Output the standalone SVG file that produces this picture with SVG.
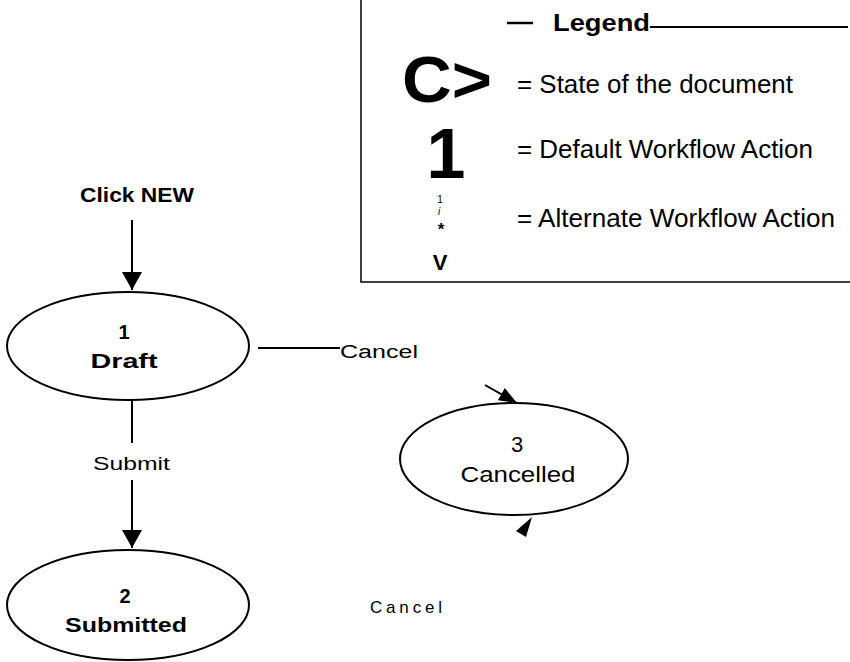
<svg xmlns="http://www.w3.org/2000/svg" width="850" height="662" viewBox="0 0 850 662">
  <defs>
    <marker id="arrow" markerUnits="userSpaceOnUse" markerWidth="20" markerHeight="20" refX="18" refY="10" orient="auto">
      <path d="M0,0 L18,10 L0,20 z" fill="#000"/>
    </marker>
    <marker id="arrow-sm" markerUnits="userSpaceOnUse" markerWidth="18" markerHeight="14" refX="18" refY="7" orient="auto">
      <path d="M0,0 L18,7 L0,14 z" fill="#000"/>
    </marker>
  </defs>
  <style>
    text { font-family: "Liberation Sans", Arial, sans-serif; fill: #000; }
    .b { font-weight: bold; }
    .mid { text-anchor: middle; }
    .state { fill: #fff; stroke: #000; stroke-width: 2; }
    .link { stroke: #000; stroke-width: 2; fill: none; }
    .rule { stroke: #000; fill: none; }
  </style>

  <rect width="850" height="662" fill="#fff"/>

  <!-- Legend panel -->
  <g id="legend">
    <path class="rule" d="M361,0 V282 H850" stroke-width="1.5"/>
    <line class="rule" x1="507" y1="23" x2="533" y2="23" stroke-width="2.5"/>
    <text class="b" x="553" y="31" font-size="24" textLength="97" lengthAdjust="spacingAndGlyphs">Legend</text>
    <line class="rule" x1="650" y1="27" x2="848" y2="27" stroke-width="2"/>

    <text class="b" x="402" y="102" font-size="64" textLength="90" lengthAdjust="spacingAndGlyphs">C&gt;</text>
    <text x="517" y="93" font-size="25" textLength="276" lengthAdjust="spacingAndGlyphs">= State of the document</text>

    <text class="b mid" x="446" y="178" font-size="70">1</text>
    <text x="517" y="158" font-size="25" textLength="296" lengthAdjust="spacingAndGlyphs">= Default Workflow Action</text>

    <text class="mid" x="440" y="203" font-size="10">1</text>
    <text class="mid" x="439" y="215" font-size="10" font-style="italic">i</text>
    <text class="b mid" x="441" y="235" font-size="17">*</text>
    <text class="b mid" x="440" y="270" font-size="22">V</text>
    <text x="517" y="227" font-size="25" textLength="318" lengthAdjust="spacingAndGlyphs">= Alternate Workflow Action</text>
  </g>

  <!-- Connectors -->
  <g id="connectors">
    <line class="link" x1="132" y1="220" x2="132" y2="290" marker-end="url(#arrow)"/>
    <line class="link" x1="258" y1="348" x2="282" y2="348" stroke-width="1"/>
    <line class="link" x1="282" y1="348" x2="340" y2="348"/>
    <line class="link" x1="132" y1="400" x2="132" y2="443"/>
    <line class="link" x1="132" y1="480" x2="132" y2="548" marker-end="url(#arrow)"/>
    <line class="link" x1="485" y1="385" x2="517" y2="403" marker-end="url(#arrow-sm)"/>
    <polygon points="532,517 516,531 526,537" fill="#000"/>
  </g>

  <!-- Connector labels -->
  <g id="labels">
    <text class="b" x="80" y="202" font-size="20" textLength="114" lengthAdjust="spacingAndGlyphs">Click NEW</text>
    <text x="340" y="358" font-size="18" textLength="78" lengthAdjust="spacingAndGlyphs">Cancel</text>
    <text x="93" y="470" font-size="19" textLength="77" lengthAdjust="spacingAndGlyphs">Submit</text>
    <text x="370" y="613" font-size="17" textLength="72" lengthAdjust="spacing">Cancel</text>
  </g>

  <!-- States -->
  <g id="state-draft">
    <ellipse class="state" cx="128" cy="346" rx="121" ry="54"/>
    <text class="b mid" x="124" y="339" font-size="20">1</text>
    <text class="b mid" x="124" y="368" font-size="21" textLength="67" lengthAdjust="spacingAndGlyphs">Draft</text>
  </g>

  <g id="state-submitted">
    <ellipse class="state" cx="128" cy="605" rx="121" ry="55"/>
    <text class="b mid" x="125" y="603" font-size="20">2</text>
    <text class="b mid" x="126" y="632" font-size="21" textLength="122" lengthAdjust="spacingAndGlyphs">Submitted</text>
  </g>

  <g id="state-cancelled">
    <ellipse class="state" cx="514" cy="459" rx="114" ry="56"/>
    <text class="mid" x="517" y="452" font-size="22">3</text>
    <text class="mid" x="518" y="482" font-size="22" textLength="115" lengthAdjust="spacingAndGlyphs">Cancelled</text>
  </g>
</svg>
